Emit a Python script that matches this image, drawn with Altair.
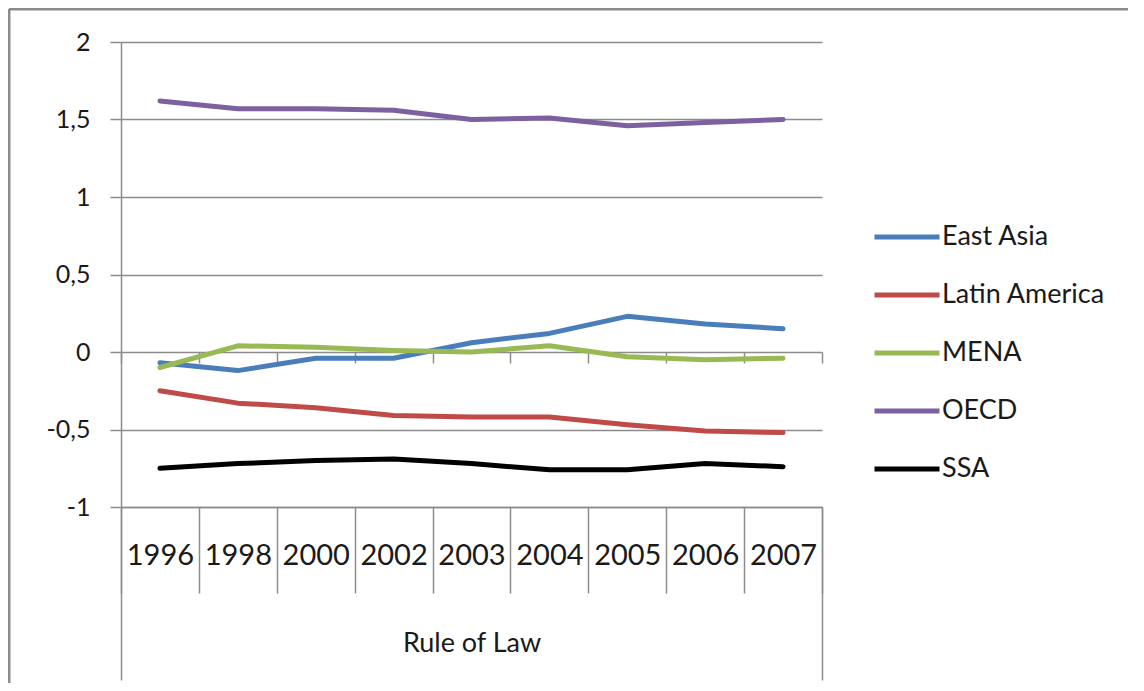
import pandas as pd
import altair as alt

# categories and series
YEARS = ["1996", "1998", "2000", "2002", "2003", "2004", "2005", "2006", "2007"]
REGIONS = ["East Asia", "Latin America", "MENA", "OECD", "SSA"]
COLORS = ["#4A7EBB", "#BE4B48", "#98B954", "#7D60A0", "#000000"]
GROUP = ["Rule of Law"]

EAST_ASIA = [-0.07, -0.12, -0.04, -0.04, 0.06, 0.12, 0.23, 0.18, 0.15]
LATIN_AMERICA = [-0.25, -0.33, -0.36, -0.41, -0.42, -0.42, -0.47, -0.51, -0.52]
MENA = [-0.10, 0.04, 0.03, 0.01, 0.00, 0.04, -0.03, -0.05, -0.04]
OECD = [1.62, 1.57, 1.57, 1.56, 1.50, 1.51, 1.46, 1.48, 1.50]
SSA = [-0.75, -0.72, -0.70, -0.69, -0.72, -0.76, -0.76, -0.72, -0.74]
Y_TICKS = [-1, -0.5, 0, 0.5, 1, 1.5, 2]

series = [EAST_ASIA, LATIN_AMERICA, MENA, OECD, SSA]
df = pd.DataFrame(
    [(y, r, v) for r, vals in zip(REGIONS, series) for y, v in zip(YEARS, vals)],
    columns=["year", "region", "value"],
)
group_df = pd.DataFrame({"group": GROUP})

W, H = 701, 465
GRID = "#8c8c8c"
FONT = "Lato"
TXT = "#1a1a1a"

band = alt.Scale(type="band", domain=YEARS, paddingInner=0, paddingOuter=0)

# the series, with the year axis at the bottom of the plot
lines = alt.Chart(df).mark_line(strokeWidth=5, strokeCap="round", strokeJoin="round").encode(
    x=alt.X("year:O", scale=band, bandPosition=0.5,
            axis=alt.Axis(orient="bottom", title=None, labelAngle=0, grid=False,
                          tickBand="extent", tickSize=86, tickColor=GRID, tickWidth=1.5,
                          domainColor=GRID, domainWidth=1.5,
                          labelPadding=-38, labelBaseline="middle", labelFontSize=29)),
    y=alt.Y("value:Q", scale=alt.Scale(domain=[-1, 2], nice=False, zero=False),
            axis=alt.Axis(values=Y_TICKS, title=None, grid=True, gridColor=GRID, gridWidth=1.5,
                          tickSize=11, tickColor=GRID, tickWidth=1.5,
                          domainColor=GRID, domainWidth=1.5,
                          labelPadding=20, labelFontSize=25,
                          labelExpr="(datum.value < 0 ? '-' : '') + replace(format(abs(datum.value), ''), '.', ',')")),
    color=alt.Color("region:N", scale=alt.Scale(domain=REGIONS, range=COLORS),
                    legend=alt.Legend(orient="none", legendX=751, legendY=160, title=None,
                                      symbolType="stroke", symbolSize=4225, symbolStrokeWidth=5,
                                      labelFontSize=27, labelOffset=0, labelLimit=300,
                                      rowPadding=10, padding=0)),
)

# small category ticks on the zero line (Excel draws the horizontal axis there)
zero_ticks = alt.Chart(df).mark_point(opacity=0).encode(
    x=alt.X("year:O", scale=band,
            axis=alt.Axis(orient="bottom", offset=-H / 3, title=None, labels=False, domain=False,
                          grid=False, tickBand="extent", tickSize=11, tickColor=GRID, tickWidth=1.5)),
)

# outer category level: "Rule of Law"
group = alt.Chart(group_df).mark_point(opacity=0).encode(
    x=alt.X("group:N", scale=alt.Scale(type="band", paddingInner=0, paddingOuter=0),
            axis=alt.Axis(orient="bottom", title=None, labelAngle=0, domain=False, grid=False,
                          tickBand="extent", tickSize=173, tickColor=GRID, tickWidth=1.5,
                          labelPadding=-37, labelBaseline="middle", labelFontSize=27)),
)

# chart frame (left and top edges)
frame_left = alt.Chart(group_df).mark_rule(color=GRID, strokeWidth=3).encode(
    x=alt.value(-112), y=alt.value(-33), y2=alt.value(H + 176))
frame_top = alt.Chart(group_df).mark_rule(color=GRID, strokeWidth=3).encode(
    x=alt.value(-112), x2=alt.value(W + 306), y=alt.value(-33))

chart = alt.layer(lines, zero_ticks, group, frame_left, frame_top).resolve_scale(
    x="independent"
).properties(
    width=W, height=H,
    autosize=alt.AutoSizeParams(type="none"),
    padding={"left": 113, "top": 34, "right": 306, "bottom": 176},
).configure_view(stroke=None).configure_axis(
    labelFont=FONT, labelColor=TXT
).configure_legend(labelFont=FONT, labelColor=TXT)

chart.save("out.html", embed_options={"renderer": "svg", "actions": False})
